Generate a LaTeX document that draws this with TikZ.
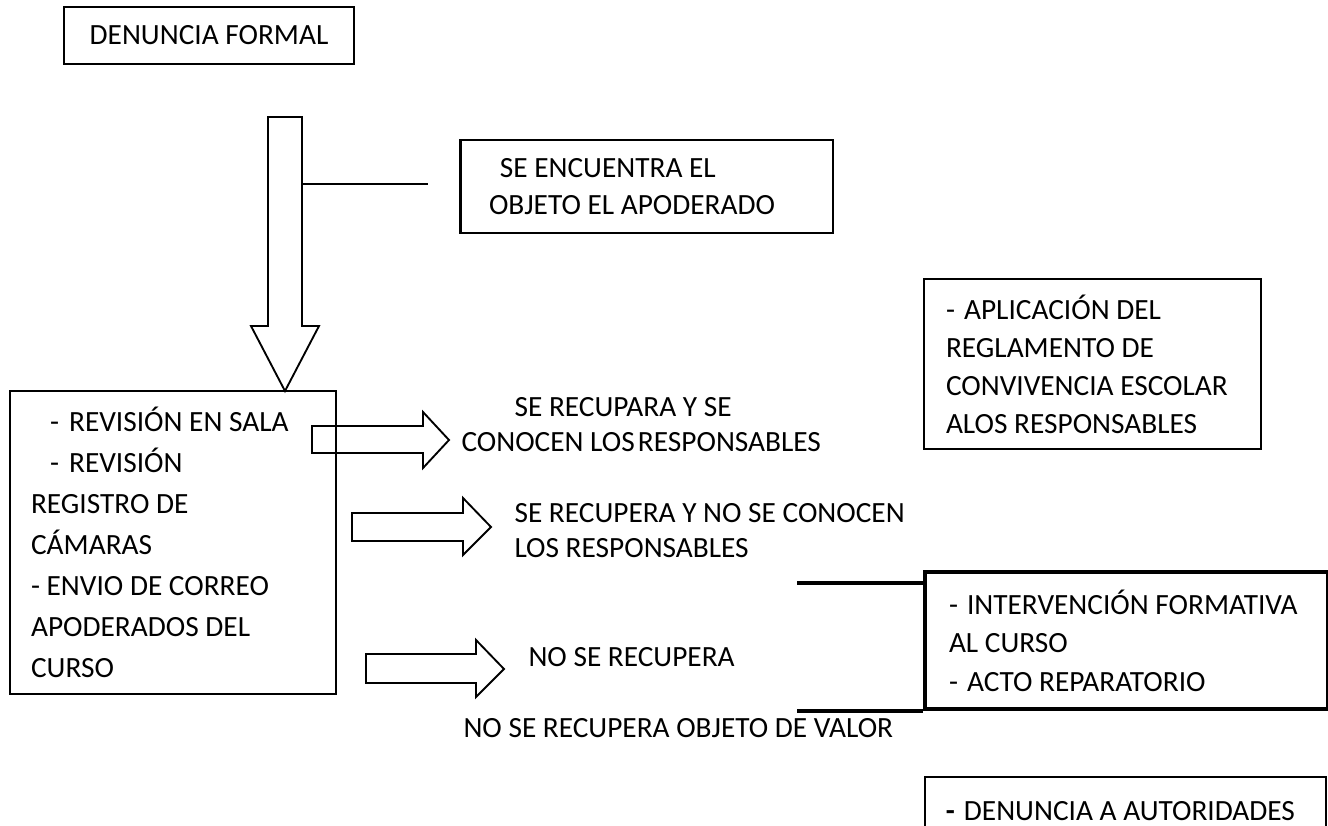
\documentclass[tikz,border=0pt]{standalone}
\usepackage{fontspec}
\setmainfont{Carlito}
\usepackage{tikz}
\tikzstyle{box} = [rectangle, draw=black, line width=0.75pt, inner ysep=0pt, align=flush left, anchor=north west]
\tikzstyle{plaintext} = [inner sep=0pt, align=left, anchor=west]
\tikzstyle{blockarrow} = [draw=black, line width=0.7pt, line join=miter]
\tikzstyle{thickline} = [line width=1.5pt]

\begin{document}
\begin{tikzpicture}[x=0.375pt, y=-0.375pt, font=\fontsize{11}{15.4}\selectfont]
        \clip (0,0) rectangle (1328,825);
        % Nodes
        \node (denuncia) [box, anchor=center, minimum width=108.75pt, minimum height=21.4pt] at (209,35.5) {DENUNCIA FORMAL};
        \node (encuentra) [box, minimum height=34.9pt, inner xsep=10.5pt, text width=118.5pt, font=\fontsize{11}{13.9}\selectfont] at (460,139)
            {\hspace*{4.1pt}SE ENCUENTRA EL\\OBJETO EL APODERADO};
        \node (sala) [box, minimum height=113.6pt, inner xsep=7.9pt, text width=106.4pt] at (9,390)
            {\hspace*{7.1pt}-\hspace{3.8pt}REVISIÓN EN SALA\\
             \hspace*{7.1pt}-\hspace{3.8pt}REVISIÓN\\
             REGISTRO DE\\
             CÁMARAS\\
             - ENVIO DE CORREO\\
             APODERADOS DEL\\
             CURSO};
        \node (aplicacion) [box, minimum height=63.75pt, inner xsep=8.25pt, text width=109.9pt, font=\fontsize{11}{14.25}\selectfont] at (923,278)
            {-\hspace{3.4pt}APLICACIÓN DEL\\
             REGLAMENTO DE\\
             CONVIVENCIA ESCOLAR\\
             ALOS RESPONSABLES};
        \node (interv) [box, line width=1.5pt, minimum height=51.4pt, inner xsep=9pt, text width=133pt, font=\fontsize{11}{14.4}\selectfont] at (923,570)
            {-\hspace{3.4pt}INTERVENCIÓN FORMATIVA\\
             AL CURSO\\
             -\hspace{3.4pt}ACTO REPARATORIO};
        \node (autoridades) [box, line width=0.6pt, minimum height=25.5pt, inner xsep=7.9pt, text width=134.6pt] at (924,776)
            {\textbf{-}\hspace{3.4pt}DENUNCIA A AUTORIDADES};

        \node (conocen) [plaintext, font=\fontsize{11}{13.1}\selectfont] at (461,424.5)
            {\hspace*{19.9pt}SE RECUPARA Y SE\\CONOCEN LOS\hspace{1.2pt}RESPONSABLES};
        \node (noconocen) [plaintext, font=\fontsize{11}{13.1}\selectfont] at (514,530.5)
            {SE RECUPERA Y NO SE CONOCEN\\LOS RESPONSABLES};
        \node (norecupera) [plaintext] at (528,657) {NO SE RECUPERA};
        \node (novalor) [plaintext] at (463,728) {NO SE RECUPERA OBJETO DE VALOR};

        % Arrows
        \draw [blockarrow] (268,117) -- (302,117) -- (302,326) -- (319,326) -- (285,391) -- (251,326) -- (268,326) -- cycle;
        \draw [blockarrow] (312,426) -- (423,426) -- (423,412) -- (449,440) -- (423,468) -- (423,453) -- (312,453) -- cycle;
        \draw [blockarrow] (352,513) -- (463,513) -- (463,498) -- (491,527) -- (463,555) -- (463,541) -- (352,541) -- cycle;
        \draw [blockarrow] (366,654) -- (476,654) -- (476,640) -- (504,669) -- (476,697) -- (476,683) -- (366,683) -- cycle;

        % Lines
        \draw [line width=1.1pt] (encuentra.north west) -- (encuentra.south west);
        \coordinate (c1) at (302,184);
        \coordinate (c2) at (428,184);
        \draw [line width=0.55pt] (c1) -- (c2);
        \coordinate (t1) at (797,583);
        \coordinate (t2) at (interv.south west -| t1);
        \draw [thickline] (t1) -- (t1 -| interv.west);
        \draw [thickline] (t2) -- (interv.south west);
    \end{tikzpicture}
\end{document}
